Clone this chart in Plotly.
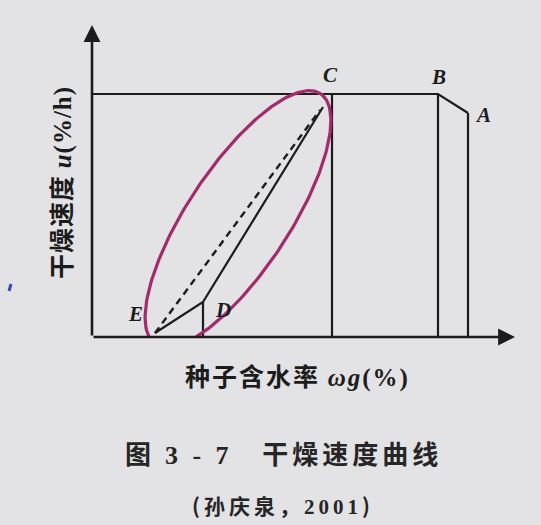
import numpy as np
import plotly.graph_objects as go

# ---- data (chart units: moisture content vs drying rate) ----
point_names = ["A", "B", "C", "D", "E"]
moisture = [376, 346, 240, 111, 63]      # x positions of A..E
rate = [224, 243, 243, 35, 4]             # y positions of A..E
solid_end = (231, 230)                    # end of solid falling-rate line near C
dashed_end = (228, 227)                   # end of dashed line near C
x_max, y_max = 428, 317                   # axis extents
x_arrow, y_arrow = 423, 312               # arrow tips

# ellipse highlighting the falling-rate section
ell_cx, ell_cy = 146, 118
ell_a, ell_b = 150, 51
ell_angle_deg = 56.6

label_shift = {"A": (15, -2), "B": (0, 17), "C": (-2, 19), "D": (20, -8), "E": (-20, 19)}

ink = "#1c1c1c"
bg = "#e3e2e4"
magenta = "rgb(163,42,108)"

L, T, W, H = 92, 20, 541, 525
B = H - 337

def px(xp):
    return (xp - L) / x_max

def py(yp):
    return (337 - yp) / y_max

xA, xB, xC, xD, xE = moisture
yA, yB, yC, yD, yE = rate

fig = go.Figure()

def seg(xs, ys, dash="solid", width=2.2, color=ink):
    fig.add_trace(go.Scatter(x=xs, y=ys, mode="lines", cliponaxis=False,
                             line=dict(color=color, width=width, dash=dash),
                             hoverinfo="skip", showlegend=False))

# constant-rate line from the y axis to B, then B -> A
seg([0, xB, xA], [yB, yB, yA])
# verticals at A, B, C, D
for xv, yv in [(xA, yA), (xB, yB), (xC, yC), (xD, yD)]:
    seg([xv, xv], [0, yv])
# falling-rate solid line E -> D -> near C
seg([xE, xD, solid_end[0]], [yE, yD, solid_end[1]])
# dashed line E -> near C
seg([xE, dashed_end[0]], [yE, dashed_end[1]], dash="7px,5px", width=2.4)

# ellipse
t = np.linspace(0, 2 * np.pi, 241)
th = np.deg2rad(ell_angle_deg)
ex = ell_cx + ell_a * np.cos(t) * np.cos(th) - ell_b * np.sin(t) * np.sin(th)
ey = ell_cy + ell_a * np.cos(t) * np.sin(th) + ell_b * np.sin(t) * np.cos(th)
seg(list(ex), list(ey), width=3.2, color=magenta)

annotations = []
# axes with arrows
annotations.append(dict(x=0, y=y_arrow, ax=0, ay=0, xref="x", yref="y", axref="x", ayref="y",
                        showarrow=True, arrowhead=2, arrowsize=1.3, arrowwidth=2.6,
                        arrowcolor=ink, standoff=0, startstandoff=0, text=""))
annotations.append(dict(x=x_arrow, y=0, ax=0, ay=0, xref="x", yref="y", axref="x", ayref="y",
                        showarrow=True, arrowhead=2, arrowsize=1.3, arrowwidth=2.6,
                        arrowcolor=ink, standoff=0, startstandoff=0, text=""))

# point labels
for name, xv, yv in zip(point_names, moisture, rate):
    dx, dy = label_shift[name]
    annotations.append(dict(x=xv, y=yv, xref="x", yref="y", showarrow=False,
                            xanchor="center", yanchor="middle",
                            text=f"<b><i>{name}</i></b>", xshift=dx, yshift=dy,
                            font=dict(family="Liberation Serif", size=21, color=ink)))

cjk = "Noto Sans CJK SC"
serif = "Liberation Serif"

def text_ann(xp, yp, text, size, ls, color=ink, angle=0):
    return dict(x=px(xp), y=py(yp), xref="paper", yref="paper", showarrow=False,
                xanchor="center", yanchor="middle", textangle=angle,
                text=f"<b><span style='letter-spacing:{ls}px'>{text}</span></b>",
                font=dict(family=cjk, size=size, color=color))

# axis titles
annotations.append(text_ann(60, 183,
                            f"干燥速度 <span style='font-family:{serif}'><i>u</i>(%/h)</span>",
                            25, 1, angle=-90))
annotations.append(text_ann(297, 375,
                            f"种子含水率 <span style='font-family:{serif}'><i>ωg</i>(%)</span>",
                            25, 2))
# caption
annotations.append(text_ann(283, 452,
                            f"图 <span style='font-family:{serif}'>3 - 7</span>   干燥速度曲线",
                            26, 4, color="#262626"))
annotations.append(text_ann(283, 505,
                            f"(孙庆泉，<span style='font-family:{serif}'>2001</span>)",
                            21, 4, color="#262626"))

fig.update_layout(
    width=W, height=H,
    margin=dict(l=L, r=W - L - x_max, t=T, b=B, pad=0),
    paper_bgcolor=bg, plot_bgcolor=bg,
    xaxis=dict(range=[0, x_max], visible=False, fixedrange=True),
    yaxis=dict(range=[0, y_max], visible=False, fixedrange=True),
    annotations=annotations,
    shapes=[dict(type="line", xref="paper", yref="paper",
                 x0=px(9), y0=py(291), x1=px(11), y1=py(284),
                 line=dict(color="#3050b0", width=3))],
    showlegend=False,
)

fig.write_html("out.html", config={"displayModeBar": False},
               post_script="document.body.style.margin='0';document.body.style.overflow='hidden';"
                           "document.body.style.background='" + bg + "';")
